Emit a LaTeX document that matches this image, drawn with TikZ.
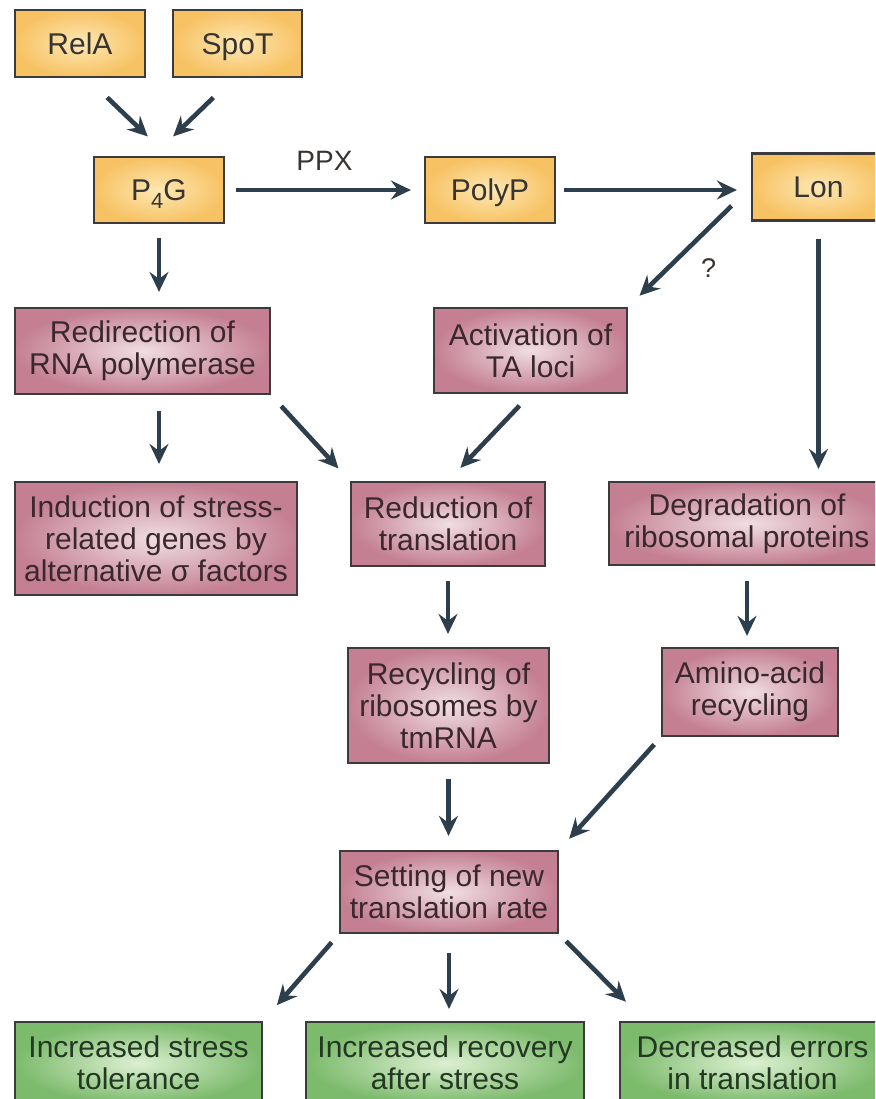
\documentclass[tikz,border=0pt]{standalone}
\usepackage{fontspec}
\setmainfont{Liberation Sans}
\usetikzlibrary{arrows.meta}
\definecolor{molout}{RGB}{247,194,100}
\definecolor{molin}{RGB}{253,232,180}
\definecolor{procout}{RGB}{196,128,146}
\definecolor{procin}{RGB}{240,222,226}
\definecolor{resout}{RGB}{124,186,108}
\definecolor{resin}{RGB}{220,240,210}
\definecolor{boxline}{RGB}{60,58,58}
\definecolor{arrcol}{RGB}{45,62,76}
\definecolor{boxtext}{RGB}{55,52,50}
\definecolor{proctext}{RGB}{58,40,45}
\definecolor{restext}{RGB}{35,55,35}
\begin{document}
\begin{tikzpicture}[x=1pt,y=-1pt]
	\def\lw{2.2pt}
	\tikzstyle{box} = [draw=boxline, line width=\lw, rectangle, inner sep=0pt, align=center, font=\fontsize{30pt}{32pt}\selectfont];
	\tikzstyle{molbox} = [box, inner color=molin, outer color=molout, text=boxtext, text height=22pt, text depth=0pt];
	\tikzstyle{procbox} = [box, inner color=procin, outer color=procout, text=proctext];
	\tikzstyle{resbox} = [box, inner color=resin, outer color=resout, text=restext];
	\tikzstyle{arr} = [draw=arrcol, line width=4.6pt, -{Stealth[length=20pt,width=19pt,inset=7pt]}];
	\useasboundingbox (0,0) rectangle (875,1099);
	\fill[white] (0,0) rectangle (875,1099);
	\clip (0,0) rectangle (875,1099);
	\node[molbox,name=relA,minimum width=130pt,minimum height=67pt] at (80,43.5) {RelA};
	\node[molbox,name=spoT,minimum width=129pt,minimum height=67pt] at (237.5,43.5) {SpoT};
	\node[molbox,name=p4g,minimum width=130pt,minimum height=66pt] at (159,190) {P\raisebox{-8pt}{\fontsize{22pt}{22pt}\selectfont 4}G};
	\node[molbox,name=polyP,minimum width=130pt,minimum height=66pt] at (490,190) {PolyP};
	\node[molbox,name=lon,minimum width=133pt,minimum height=67pt] at (818.5,187) {Lon};
	\node[procbox,name=redir,minimum width=255pt,minimum height=86pt] at (142.5,351) {Redirection of\\RNA polymerase};
	\node[procbox,name=act,minimum width=193pt,minimum height=85pt] at (530.5,350.5) {Activation of\\TA loci};
	\node[procbox,name=induct,minimum width=282pt,minimum height=113pt] at (156,538.5) {Induction of stress-\\related genes by\\alternative σ factors};
	\node[procbox,name=reduct,minimum width=194pt,minimum height=84pt] at (448,524) {Reduction of\\translation};
	\node[procbox,name=degr,minimum width=276pt,minimum height=83pt] at (747,523.5) {Degradation of\\ribosomal proteins};
	\node[procbox,name=recyc,minimum width=201pt,minimum height=115pt] at (448.5,705.5) {Recycling of\\ribosomes by\\tmRNA};
	\node[procbox,name=amino,minimum width=176pt,minimum height=88pt] at (750,692) {Amino-acid\\recycling};
	\node[procbox,name=setting,minimum width=218pt,minimum height=82pt] at (449,892) {Setting of new\\translation rate};
	\node[resbox,name=tol,minimum width=247pt,minimum height=82pt] at (138.5,1063) {Increased stress\\tolerance};
	\node[resbox,name=recov,minimum width=278pt,minimum height=82pt] at (445,1063) {Increased recovery\\after stress};
	\node[resbox,name=err,minimum width=265pt,minimum height=82pt] at (752.5,1063) {Decreased errors\\in translation};
	\draw[arr,shorten <=28pt,shorten >=28pt] ([xshift=7pt]relA.south) -- ([xshift=9pt]p4g.north);
	\draw[arr,shorten <=28pt,shorten >=28pt] ([xshift=-4pt]spoT.south) -- ([xshift=-6pt]p4g.north);
	\draw[arr,shorten <=11pt,shorten >=13pt] (p4g.east) -- (p4g.east -| polyP.west) node[midway,above=14pt,text=boxtext,font=\fontsize{28pt}{28pt}\selectfont] {PPX};
	\draw[arr,shorten <=8pt,shorten >=14pt] (polyP.east) -- (polyP.east -| lon.west);
	\draw[arr,shorten <=27pt,shorten >=16pt] (lon.west) -- (act.north east) node[pos=.5,xshift=19pt,yshift=-21pt,text=boxtext,font=\fontsize{27pt}{27pt}\selectfont] {?};
	\foreach \x/\a/\b/\s/\e in {p4g.south/p4g.south/redir.north/14pt/15pt, p4g.south/redir.south/induct.north/16pt/17pt, lon.south/lon.south/degr.north/17pt/12pt, reduct.south/reduct.south/recyc.north/14pt/13pt, degr.south/degr.south/amino.north/15pt/11pt, recyc.south/recyc.south/setting.north/15pt/14pt, setting.south/setting.south/recov.north/19pt/12pt}
	{
		\draw[arr,shorten <=\s,shorten >=\e] (\x |- \a) -- (\x |- \b);
	}
	\draw[arr,shorten <=15pt,shorten >=17pt] (redir.south east) -- (reduct.north west);
	\draw[arr,shorten <=16pt,shorten >=18pt] (act.south) -- (reduct.north);
	\draw[arr,shorten <=10pt,shorten >=15pt] (amino.south west) -- (setting.north east);
	\draw[arr,shorten <=11pt,shorten >=21pt] (setting.south west) -- (tol.north east);
	\draw[arr,shorten <=10pt,shorten >=27pt] (setting.south east) -- ([xshift=26pt]err.north west);
\end{tikzpicture}
\end{document}
